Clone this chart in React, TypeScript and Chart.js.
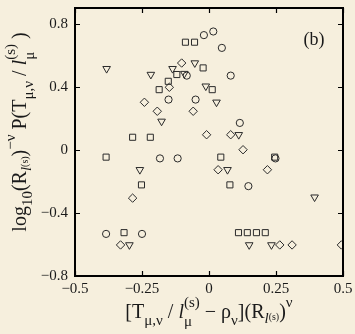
import React, { useEffect, useRef } from "react";
import { Chart, registerables } from "chart.js";

Chart.register(...registerables);

const circleX = [-0.384, -0.25, -0.183, -0.117, -0.151, -0.05, -0.083, -0.019, 0.016, 0.048, 0.081, 0.115, 0.147, 0.248];
const circleY = [-0.533, -0.533, -0.054, -0.054, 0.319, 0.319, 0.471, 0.728, 0.751, 0.647, 0.471, 0.171, -0.23, -0.054];

const squareX = [-0.384, -0.317, -0.285, -0.219, -0.252, -0.186, -0.152, -0.12, -0.088, -0.054, -0.022, 0.012, 0.044, 0.078, 0.11, 0.143, 0.177, 0.21, 0.245];
const squareY = [-0.046, -0.525, 0.08, 0.08, -0.222, 0.382, 0.435, 0.478, 0.683, 0.683, 0.52, 0.382, -0.046, -0.222, -0.525, -0.525, -0.525, -0.525, -0.046];

const triX = [-0.382, -0.297, -0.258, -0.217, -0.177, -0.136, -0.092, -0.053, -0.012, 0.028, 0.069, 0.111, 0.15, 0.233, 0.394];
const triY = [0.515, -0.603, -0.126, 0.478, 0.181, 0.515, 0.484, 0.551, 0.404, 0.302, -0.126, 0.096, -0.603, -0.603, -0.3];

const diamondX = [-0.33, -0.285, -0.241, -0.193, -0.148, -0.102, -0.059, -0.009, 0.034, 0.081, 0.127, 0.218, 0.264, 0.31, 0.494];
const diamondY = [-0.603, -0.306, 0.302, 0.245, 0.397, 0.551, 0.245, 0.096, -0.126, 0.096, 0.001, -0.126, -0.603, -0.603, -0.603];

const xTicks = [-0.5, -0.25, 0, 0.25, 0.5];
const yTicks = [-0.8, -0.4, 0, 0.4, 0.8];
const panelLabel = "(b)";

const BG = "#f6efdd";
const INK = "#1a1a1a";
const SERIF = "\"Liberation Serif\", \"Times New Roman\", \"DejaVu Serif\", serif";

type Seg = { t?: string; sub?: string; sup?: string; size?: number; dy?: number; italic?: boolean };

const xLabel: Seg[] = [
  { t: "[T" },
  { t: "\u03bc,\u03bd", size: 15, dy: 7 },
  { t: " / " },
  { t: "l", italic: true },
  { sub: "\u03bc", sup: "(s)" },
  { t: " \u2212 \u03c1" },
  { t: "\u03bd", size: 15, dy: 7 },
  { t: "](R" },
  { t: "l", italic: true, size: 15, dy: 5 },
  { t: "(s)", size: 10, dy: 2 },
  { t: ")" },
  { t: "\u03bd", size: 15, dy: -11 },
];

const yLabel: Seg[] = [
  { t: "log" },
  { t: "10", size: 15, dy: 6 },
  { t: "(R" },
  { t: "l", italic: true, size: 15, dy: 5 },
  { t: "(s)", size: 10, dy: 2 },
  { t: ")" },
  { t: "\u2212\u03bd", size: 15, dy: -11 },
  { t: " P(T" },
  { t: "\u03bc,\u03bd", size: 15, dy: 7 },
  { t: " / " },
  { t: "l", italic: true },
  { sub: "\u03bc", sup: "(s)" },
  { t: " )" },
];

const MAIN = 20;

function font(size: number, italic?: boolean) {
  return `${italic ? "italic " : ""}${size}px ${SERIF}`;
}

function segWidth(ctx: CanvasRenderingContext2D, s: Seg) {
  if (s.t !== undefined) {
    ctx.font = font(s.size ?? MAIN, s.italic);
    return ctx.measureText(s.t).width;
  }
  ctx.font = font(15);
  const a = ctx.measureText(s.sub ?? "").width;
  const b = ctx.measureText(s.sup ?? "").width;
  return Math.max(a, b);
}

function drawRich(ctx: CanvasRenderingContext2D, segs: Seg[], cx: number, baseY: number) {
  const total = segs.reduce((acc, s) => acc + segWidth(ctx, s), 0);
  let x = cx - total / 2;
  ctx.textAlign = "left";
  ctx.textBaseline = "alphabetic";
  ctx.fillStyle = INK;
  for (const s of segs) {
    const w = segWidth(ctx, s);
    if (s.t !== undefined) {
      ctx.font = font(s.size ?? MAIN, s.italic);
      ctx.fillText(s.t, x, baseY + (s.dy ?? 0));
    } else {
      ctx.font = font(15);
      ctx.fillText(s.sub ?? "", x, baseY + 8);
      ctx.fillText(s.sup ?? "", x, baseY - 11);
    }
    x += w;
  }
}

const framePlugin = {
  id: "frame",
  beforeDraw(chart: any) {
    const { ctx, width, height } = chart;
    ctx.save();
    ctx.fillStyle = BG;
    ctx.fillRect(0, 0, width, height);
    ctx.restore();
  },
  afterDraw(chart: any) {
    const { ctx, chartArea } = chart;
    const { left, right, top, bottom } = chartArea;
    const xs = chart.scales.x;
    const ys = chart.scales.y;
    ctx.save();
    ctx.strokeStyle = "#000";
    ctx.lineWidth = 2;
    ctx.strokeRect(left, top, right - left, bottom - top);
    ctx.lineWidth = 1.2;
    const tl = 5;
    ctx.beginPath();
    for (const v of xTicks) {
      const px = Math.round(xs.getPixelForValue(v)) + 0.5;
      ctx.moveTo(px, bottom);
      ctx.lineTo(px, bottom - tl);
      ctx.moveTo(px, top);
      ctx.lineTo(px, top + tl);
    }
    for (const v of yTicks) {
      const py = Math.round(ys.getPixelForValue(v)) + 0.5;
      ctx.moveTo(left, py);
      ctx.lineTo(left + tl, py);
      ctx.moveTo(right, py);
      ctx.lineTo(right - tl, py);
    }
    ctx.stroke();

    ctx.fillStyle = INK;
    ctx.font = font(18);
    ctx.textAlign = "center";
    ctx.textBaseline = "middle";
    ctx.fillText(panelLabel, 314, 40);

    drawRich(ctx, xLabel, 209, 318);

    ctx.translate(26, 132);
    ctx.rotate(-Math.PI / 2);
    drawRich(ctx, yLabel, 0, 0);
    ctx.restore();
  },
};

function fmt(v: number) {
  const s = Math.abs(v).toString();
  return v < 0 ? "\u2212" + s : s;
}

export default function App() {
  const ref = useRef<HTMLCanvasElement | null>(null);

  useEffect(() => {
    document.body.style.margin = "0";
    document.body.style.background = BG;
    const canvas = ref.current!;
    const mk = (xs: number[], ys: number[]) => xs.map((x, i) => ({ x, y: ys[i] }));
    const common = {
      backgroundColor: "rgba(0,0,0,0)",
      borderColor: "#2a2a2a",
      borderWidth: 1,
      showLine: false,
    };
    const chart = new Chart(canvas, {
      type: "scatter",
      data: {
        datasets: [
          { ...common, data: mk(circleX, circleY), pointStyle: "circle", pointRadius: 3.6 },
          { ...common, data: mk(squareX, squareY), pointStyle: "rect", pointRadius: 4.3 },
          { ...common, data: mk(triX, triY), pointStyle: "triangle", pointRotation: 180, pointRadius: 4.4 },
          { ...common, data: mk(diamondX, diamondY), pointStyle: "rectRot", pointRadius: 4.2 },
        ],
      } as any,
      options: {
        animation: false,
        responsive: false,
        devicePixelRatio: 1,
        layout: { padding: { left: 0, right: 12, top: 8, bottom: 0 } },
        plugins: { legend: { display: false }, tooltip: { enabled: false } },
        scales: {
          x: {
            type: "linear",
            min: -0.5,
            max: 0.5,
            afterBuildTicks: (s: any) => {
              s.ticks = xTicks.map((v) => ({ value: v }));
            },
            afterFit: (s: any) => {
              s.height = 58;
              s.paddingLeft = 0;
              s.paddingRight = 0;
            },
            grid: { display: false, drawTicks: false },
            border: { display: false },
            ticks: {
              padding: 4,
              color: INK,
              font: { family: SERIF, size: 15 },
              maxRotation: 0,
              callback: (v: any) => fmt(Number(v)),
            },
          },
          y: {
            type: "linear",
            min: -0.8,
            max: 0.9,
            afterBuildTicks: (s: any) => {
              s.ticks = yTicks.map((v) => ({ value: v }));
            },
            afterFit: (s: any) => {
              s.width = 75;
              s.paddingTop = 0;
              s.paddingBottom = 0;
            },
            grid: { display: false, drawTicks: false },
            border: { display: false },
            ticks: {
              padding: 7,
              color: INK,
              font: { family: SERIF, size: 15 },
              callback: (v: any) => fmt(Number(v)),
            },
          },
        },
      } as any,
      plugins: [framePlugin],
    });
    return () => chart.destroy();
  }, []);

  return (
    <div style={{ position: "fixed", left: 0, top: 0, width: 355, height: 334, background: BG }}>
      <canvas ref={ref} width={355} height={334} style={{ width: 355, height: 334, display: "block" }} />
    </div>
  );
}
